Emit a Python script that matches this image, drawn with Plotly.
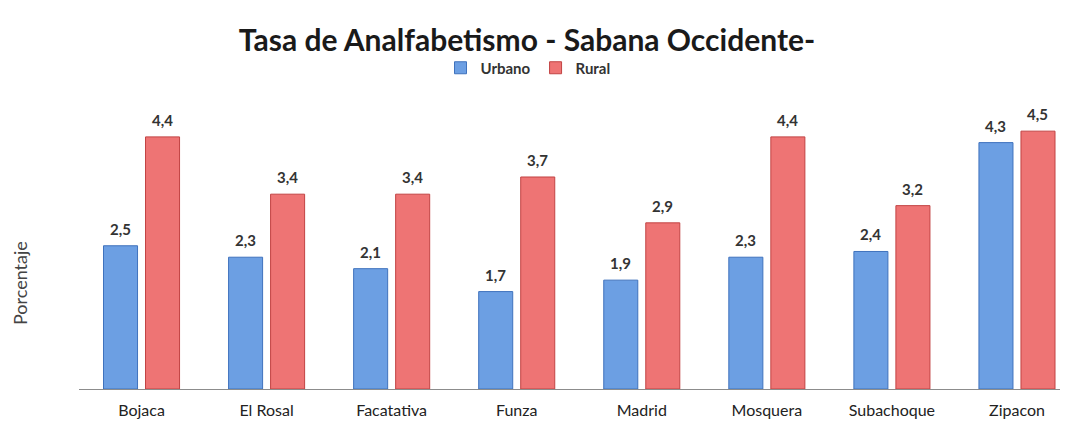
import plotly.graph_objects as go

categories = ["Bojaca", "El Rosal", "Facatativa", "Funza", "Madrid", "Mosquera", "Subachoque", "Zipacon"]
urbano = [2.5, 2.3, 2.1, 1.7, 1.9, 2.3, 2.4, 4.3]
rural = [4.4, 3.4, 3.4, 3.7, 2.9, 4.4, 3.2, 4.5]

# page body has an 8px margin, so the figure is sized to fit the window
OFF = 8
W, H = 1068 - OFF, 424 - OFF
L = 79 - OFF
T = 101 - OFF
B = H - (389 - OFF)

fig = go.Figure()
fig.add_trace(go.Bar(
    x=categories, y=urbano, name="Urbano",
    marker=dict(color="#6c9fe3", line=dict(color="#3f72bd", width=1)),
))
fig.add_trace(go.Bar(
    x=categories, y=rural, name="Rural",
    marker=dict(color="#ee7474", line=dict(color="#c24343", width=1)),
))

label_font = dict(family="Lato", size=15, color="#333333", weight="bold")
annotations = []
for series, shift in ((urbano, -21), (rural, 21)):
    for c, v in zip(categories, series):
        annotations.append(dict(
            x=c, y=v, xref="x", yref="y", text=f"{v:.1f}".replace(".", ","),
            showarrow=False, xshift=shift, yshift=17, yanchor="middle",
            font=label_font,
        ))

annotations.append(dict(text="Porcentaje", xref="paper", yref="paper",
                        x=(20 - OFF - L) / (W - L), y=(389 - 283) / (H - T - B),
                        xanchor="center", yanchor="middle", textangle=-90,
                        showarrow=False, font=dict(family="Lato", size=18, color="#444444")))

fig.update_layout(
    width=W, height=H,
    separators=",.",
    paper_bgcolor="white", plot_bgcolor="white",
    margin=dict(l=L, r=0, t=T, b=B),
    barmode="group", bargap=0.328, bargroupgap=0.19,
    font=dict(family="Lato", color="#222222"),
    title=dict(text="<b>Tasa de Analfabetismo - Sabana Occidente-</b>",
               xref="container", x=(527 - OFF) / W, xanchor="center",
               yref="container", y=1 - (40 - OFF) / H, yanchor="middle",
               font=dict(family="Lato", size=30, color="#1a1a1a")),
    legend=dict(orientation="h", xref="container", x=(528 - OFF) / W, xanchor="center",
                yref="container", y=1 - (68 - OFF) / H, yanchor="middle",
                font=dict(family="Lato", size=15, color="#333333", weight="bold"),
                itemwidth=30, traceorder="normal"),
    xaxis=dict(range=[-0.5, 7.408], showline=True, linecolor="#8c8c8c", linewidth=1,
               ticks="", ticklabelstandoff=7,
               tickfont=dict(family="Lato", size=16, color="#222222"),
               showgrid=False, zeroline=False),
    yaxis=dict(range=[0, (H - T - B) / 57.3], visible=False, showgrid=False),
    annotations=annotations,
)

fig.write_html("out.html")
